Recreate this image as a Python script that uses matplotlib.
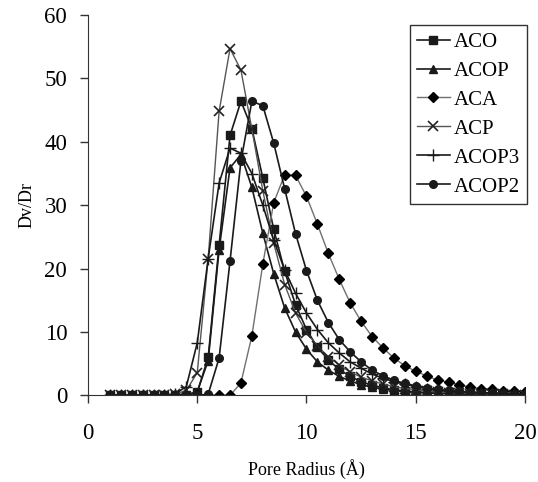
import numpy as np
import matplotlib.pyplot as plt

plt.rcParams['font.family'] = ['Liberation Serif', 'DejaVu Serif']

radius = np.arange(1, 20.5, 0.5)

aco = [0, 0, 0, 0, 0, 0, 0, 0.1, 0.5, 6.0, 23.7, 41.0, 46.4, 42.1, 34.3, 26.2, 19.6,
       14.3, 10.4, 7.6, 5.6, 4.1, 3.0, 2.2, 1.6, 1.2, 0.9, 0.7, 0.55, 0.45, 0.35,
       0.3, 0.25, 0.2, 0.2, 0.15, 0.15, 0.1, 0.1]
acop = [0, 0, 0, 0, 0, 0, 0, 0.1, 0.6, 5.5, 23.0, 35.9, 38.0, 32.8, 25.6, 19.2, 13.8,
        10.0, 7.3, 5.3, 4.0, 3.0, 2.3, 1.7, 1.3, 1.0, 0.8, 0.6, 0.5, 0.4, 0.35,
        0.3, 0.25, 0.2, 0.2, 0.15, 0.15, 0.1, 0.1]
aca = [0, 0, 0, 0, 0, 0, 0, 0, 0, 0, 0, 0, 2.0, 9.4, 20.7, 30.4, 34.8,
       34.7, 31.4, 27.0, 22.4, 18.3, 14.6, 11.7, 9.3, 7.5, 5.9, 4.7, 3.8, 3.1, 2.4,
       2.1, 1.7, 1.3, 1.1, 0.95, 0.75, 0.65, 0.6]
acp = [0, 0, 0, 0, 0, 0, 0.2, 0.8, 3.6, 21.6, 44.8, 54.7, 51.3, 42.0, 32.3, 24.0, 17.5,
       13.0, 9.9, 7.8, 6.1, 4.8, 3.7, 2.9, 2.3, 1.8, 1.4, 1.1, 0.9, 0.7, 0.55,
       0.45, 0.4, 0.3, 0.25, 0.2, 0.2, 0.15, 0.15]
acop3 = [0, 0, 0, 0, 0, 0, 0.3, 1.4, 8.3, 21.6, 33.5, 39.0, 38.2, 35.0, 30.0, 24.5, 19.8,
         16.1, 13.0, 10.4, 8.3, 6.7, 5.3, 4.3, 3.4, 2.7, 2.2, 1.8, 1.4, 1.1, 0.9,
         0.7, 0.6, 0.5, 0.4, 0.35, 0.3, 0.25, 0.2]
acop2 = [0, 0, 0, 0, 0, 0, 0, 0, 0, 0.2, 5.9, 21.2, 37.0, 46.4, 45.7, 39.8, 32.6,
         25.5, 19.7, 15.0, 11.5, 8.8, 6.9, 5.3, 4.0, 3.1, 2.4, 1.9, 1.5, 1.2, 0.95,
         0.8, 0.65, 0.55, 0.45, 0.4, 0.35, 0.3, 0.25]

fig = plt.figure(figsize=(5.38, 4.82), dpi=100)
ax = fig.add_axes([0.1636, 0.1795, 0.8122, 0.7894])

ax.plot(radius, aco, color='#1a1a1a', lw=1.2, marker='s', ms=5.5, label='ACO')
ax.plot(radius, acop, color='#1a1a1a', lw=1.2, marker='^', ms=6, label='ACOP')
ax.plot(radius, aca, color='#707070', lw=1.0, marker='D', ms=5.5, mfc='black', mec='black', label='ACA')
ax.plot(radius, acp, color='#555555', lw=1.0, marker='x', ms=7.5, mew=1.2, mec='#222222', label='ACP')
ax.plot(radius, acop3, color='#1a1a1a', lw=1.2, marker='+', ms=8.5, mew=1.0, label='ACOP3')
ax.plot(radius, acop2, color='#1a1a1a', lw=1.2, marker='o', ms=5.5, label='ACOP2')

ax.set_xlim(0, 20)
ax.set_ylim(0, 60)
ax.set_xticks([0, 5, 10, 15, 20])
ax.set_yticks(range(0, 70, 10))
ax.spines['top'].set_visible(False)
ax.spines['right'].set_visible(False)
ax.spines['left'].set_color('#333333')
ax.spines['bottom'].set_color('#333333')
ax.tick_params(direction='out', length=6, width=1, color='#333333', labelsize=16.5)
ax.tick_params(axis='x', pad=14)
ax.tick_params(axis='y', pad=9)

ax.set_xlabel('Pore Radius (Å)', fontsize=13, labelpad=11)
ax.set_ylabel('Dv/Dr', fontsize=13, labelpad=6)

leg = ax.legend(loc='upper left', bbox_to_anchor=(410 / 538, 1 - 25 / 482),
                bbox_transform=fig.transFigure, frameon=True, fancybox=False,
                fontsize=15, handlelength=1.55, handletextpad=0.2,
                labelspacing=0.45, borderpad=0.35, borderaxespad=0)
leg.get_frame().set_edgecolor('black')
leg.get_frame().set_linewidth(1)

fig.savefig('out.png', dpi=100)
